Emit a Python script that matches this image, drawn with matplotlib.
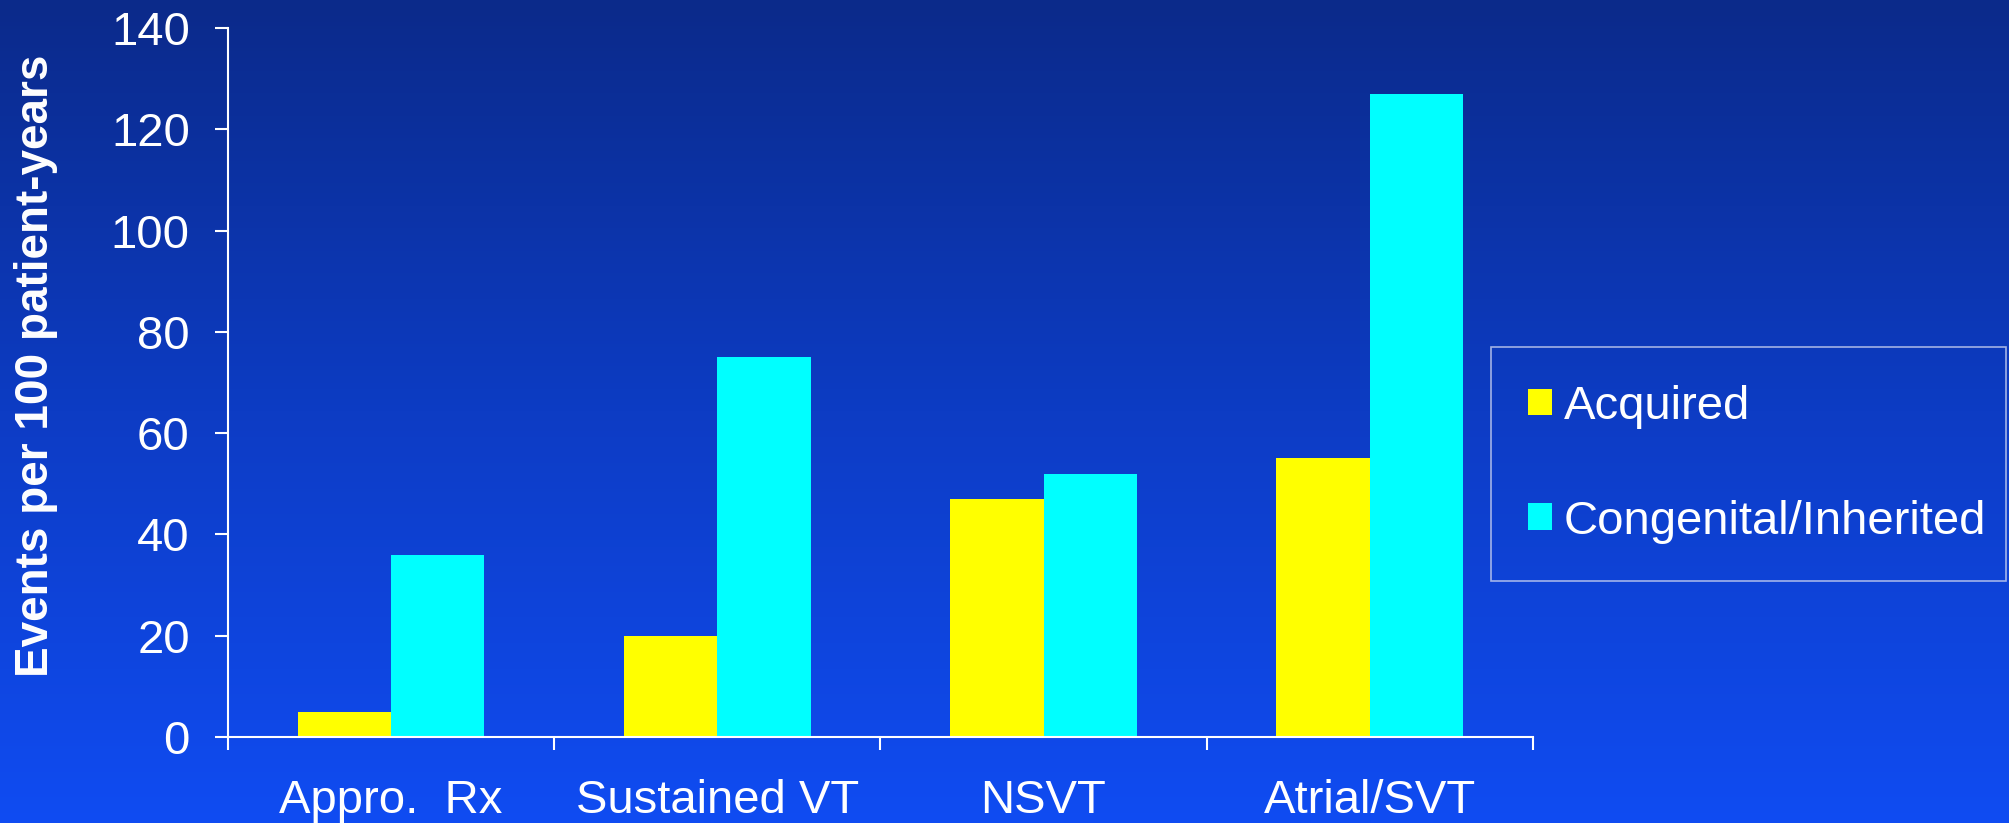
import matplotlib
matplotlib.use("agg")
import numpy as np
import matplotlib.pyplot as plt
from matplotlib.colors import LinearSegmentedColormap

categories = ["Appro.  Rx", "Sustained VT", "NSVT", "Atrial/SVT"]
acquired = [5, 20, 47, 55]
congenital = [36, 75, 52, 127]
series_labels = ["Acquired", "Congenital/Inherited"]

plt.rcParams['font.family'] = ['Liberation Sans', 'DejaVu Sans']

fig = plt.figure(figsize=(20.09, 8.23), dpi=100)

# slide-style vertical gradient behind everything
bg = fig.add_axes([0, 0, 1, 1], zorder=-10)
grad = LinearSegmentedColormap.from_list("bg", ["#0b2a8a", "#0d3cc4", "#104cf2"])
bg.imshow(np.linspace(0, 1, 256).reshape(-1, 1), aspect="auto", cmap=grad,
          extent=[0, 1, 0, 1], origin="upper")
bg.axis("off")

ax = fig.add_axes([0.1135, 0.1045, 0.6495, 0.8615])
ax.patch.set_visible(False)

x = np.arange(len(categories)) + 0.5
w = 0.286
ax.bar(x - w / 2, acquired, w, color="#ffff00", label=series_labels[0])
ax.bar(x + w / 2, congenital, w, color="#00ffff", label=series_labels[1])

ax.set_xlim(0, len(categories))
ax.set_ylim(0, 140)
ax.set_yticks(range(0, 141, 20))
ax.set_xticks(range(0, len(categories) + 1))
ax.set_xticklabels([])
ax.set_xticks(x, minor=True)
ax.set_xticklabels(categories, minor=True)

for s in ["top", "right"]:
    ax.spines[s].set_visible(False)
for s in ["left", "bottom"]:
    ax.spines[s].set_color("white")
    ax.spines[s].set_linewidth(1.5)

ax.tick_params(axis="y", which="major", colors="white", labelsize=34,
               length=9.5, width=1.5, pad=18)
ax.tick_params(axis="x", which="major", colors="white", length=9.5, width=1.5)
ax.tick_params(axis="x", which="minor", colors="white", labelsize=34,
               length=0, pad=30)

fig.text(0.018, 0.556, "Events per 100 patient-years", color="white",
         fontsize=33, fontweight="bold", rotation=90, ha="center", va="center")

leg_w = 515 / 2009
leg = ax.legend(loc="upper left",
                bbox_to_anchor=(0.742, 1 - 347 / 823 - 0.01, leg_w, 0.01),
                bbox_transform=fig.transFigure, borderaxespad=0, mode="expand",
                fontsize=34, frameon=True, fancybox=False, labelspacing=1.5,
                handlelength=0.5, handleheight=0.5, handletextpad=0.25,
                borderpad=0.8)
leg.get_frame().set_facecolor("none")
leg.get_frame().set_edgecolor("#c8d0f0")
leg.get_frame().set_linewidth(1.2)
for t in leg.get_texts():
    t.set_color("white")

fig.savefig("out.png", dpi=100)
